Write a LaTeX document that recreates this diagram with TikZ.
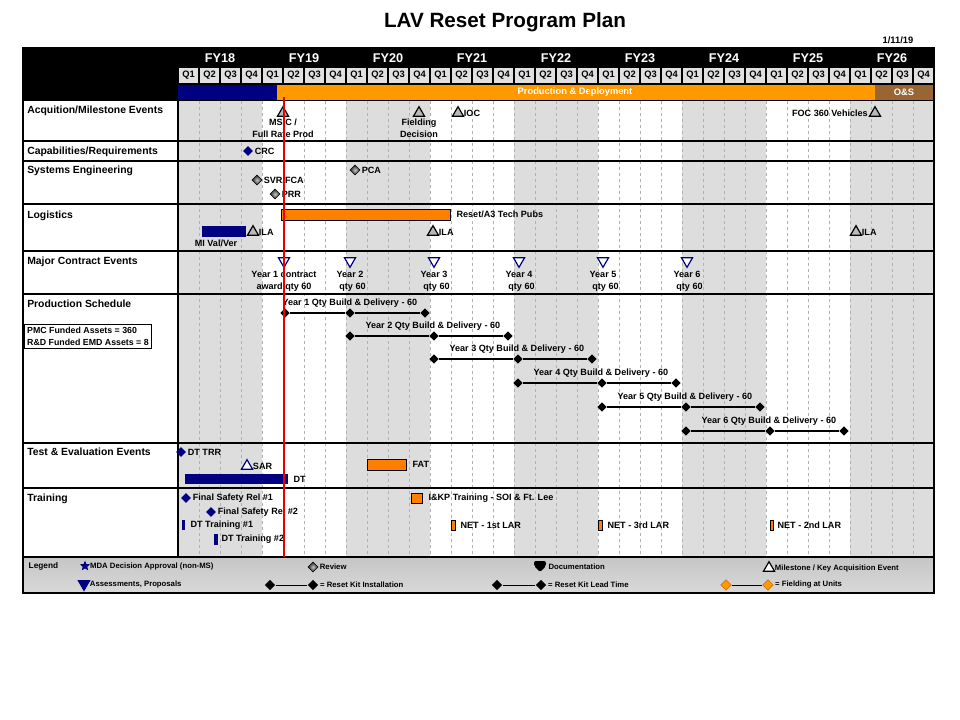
\documentclass[tikz,border=0pt]{standalone}
\usepackage{fontspec}
\setmainfont{Liberation Sans}
\usetikzlibrary{positioning, shapes.geometric}

\definecolor{navy}{RGB}{0,0,128}
\definecolor{phaseorange}{RGB}{255,153,0}
\definecolor{barorange}{RGB}{255,128,0}
\definecolor{osbrown}{RGB}{153,102,51}
\definecolor{yrshade}{RGB}{221,221,221}
\definecolor{qcell}{RGB}{224,224,224}
\definecolor{nowred}{RGB}{230,0,0}

\begin{document}
\begin{tikzpicture}[
  x=0.75pt, y=-0.75pt,
  lbl/.style={font=\bfseries\fontsize{6.8}{9}\selectfont, inner sep=1pt},
  rowlbl/.style={font=\bfseries\fontsize{7.8}{9}\selectfont, anchor=west, inner sep=0pt},
  leglbl/.style={font=\bfseries\fontsize{5.8}{6.5}\selectfont, inner sep=1pt},
  qlbl/.style={font=\bfseries\fontsize{7}{8}\selectfont, inner sep=0pt},
  mstone/.style={regular polygon, regular polygon sides=3, draw=black, fill=gray!55,
    line width=0.9pt, minimum size=9.5pt, inner sep=0pt},
  award/.style={regular polygon, regular polygon sides=3, shape border rotate=180,
    draw=navy, fill=white, line width=0.9pt, minimum size=9.5pt, inner sep=0pt},
  navydia/.style={diamond, fill=navy, minimum size=7.5pt, inner sep=0pt},
  review/.style={diamond, draw=black, inner color=gray!45, outer color=black!85,
    minimum size=7.5pt, inner sep=0pt},
  kit/.style={diamond, fill=black, minimum size=7pt, inner sep=0pt},
]
  \useasboundingbox (0,0) rectangle (960,720);

  % title
  \node[font=\bfseries\fontsize{15.5}{18}\selectfont] (title) at (505,22) {LAV Reset Program Plan};
  \node[font=\bfseries\fontsize{7}{8}\selectfont] (date) at (898,40) {1/11/19};

  % year shading and quarter grid
  \foreach \k in {0,2,4,6,8}
    \fill[yrshade] ({178+84*\k},101) rectangle ({262+84*\k},557);
  \foreach \i in {1,...,35}
    \draw[gray!60, line width=0.4pt, dash pattern=on 2.5pt off 2pt] ({178+21*\i},101) -- ({178+21*\i},557);

  % header
  \fill[black] (23,48) rectangle (934,101);
  \foreach \fy [count=\k from 0] in {18,...,26}
    \node[font=\bfseries\fontsize{9.5}{11}\selectfont, text=white] (fy\fy) at ({220+84*\k},58) {FY\fy};
  \foreach \i in {0,...,35}{
    \pgfmathtruncatemacro\q{mod(\i,4)+1}
    \fill[qcell] ({178+21*\i+1},68) rectangle ({178+21*\i+20},83);
    \node[qlbl] (q\i) at ({188.5+21*\i},75.5) {Q\q};
  }
  \fill[navy] (178,85) rectangle (277,100);
  \fill[phaseorange] (277,85) rectangle (875,100);
  \fill[osbrown] (875,85) rectangle (934,100);
  \node[qlbl, text=white] (prod) at (575,92.5) {Production \& Deployment};
  \node[qlbl, text=white] (os) at (904,92.5) {O\&S};

  % legend background
  \shade[top color=gray!45, middle color=white, bottom color=gray!30] (23,557) rectangle (934,593);

  % row separators
  \foreach \y in {141,161,204,251,294,443,488,557}
    \draw[line width=0.8pt] (23,\y) -- (934,\y);
  \draw[line width=0.8pt] (178,101) -- (178,557);

  % row titles
  \node[rowlbl] (racq) at (27,111) {Acquition/Milestone Events};
  \node[rowlbl] (rcap) at (27,152) {Capabilities/Requirements};
  \node[rowlbl] (rse) at (27,171) {Systems Engineering};
  \node[rowlbl] (rlog) at (27,216) {Logistics};
  \node[rowlbl] (rmce) at (27,262) {Major Contract Events};
  \node[rowlbl] (rps) at (27,304) {Production Schedule};
  \node[rowlbl] (rte) at (27,452) {Test \& Evaluation Events};
  \node[rowlbl] (rtr) at (27,499) {Training};

  % acquisition / milestones
  \node[mstone] (msc) at (283,113) {};
  \node[lbl, align=center] (msclbl) at (283,128) {MS C /\\Full Rate Prod};
  \node[mstone] (fdec) at (419,113) {};
  \node[lbl, align=center] (fdeclbl) at (419,128) {Fielding\\Decision};
  \node[mstone] (ioc) at (458,113) {};
  \node[lbl, right=0pt of ioc] (ioclbl) {IOC};
  \node[mstone] (foc) at (875,113) {};
  \node[lbl, left=1pt of foc] (foclbl) {FOC 360 Vehicles};

  % capabilities
  \node[navydia] (crc) at (248,151) {};
  \node[lbl, right=0pt of crc] (crclbl) {CRC};

  % systems engineering
  \node[review] (pca) at (355,170) {};
  \node[lbl, right=0pt of pca] (pcalbl) {PCA};
  \node[review] (svr) at (257,180) {};
  \node[lbl, right=0pt of svr] (svrlbl) {SVR/FCA};
  \node[review] (prr) at (275,194) {};
  \node[lbl, right=0pt of prr] (prrlbl) {PRR};

  % logistics
  \draw[fill=barorange, line width=0.5pt] (281,209) rectangle (450,220);
  \node[lbl, anchor=west] (pubslbl) at (455,214) {Reset/A3 Tech Pubs};
  \fill[navy] (202,226) rectangle (246,237);
  \node[lbl] (mivallbl) at (216,243) {MI Val/Ver};
  \node[mstone] (ila1) at (253,232) {};
  \node[lbl, right=0pt of ila1] (ila1lbl) {ILA};
  \node[mstone] (ila2) at (433,232) {};
  \node[lbl, right=0pt of ila2] (ila2lbl) {ILA};
  \node[mstone] (ila3) at (856,232) {};
  \node[lbl, right=0pt of ila3] (ila3lbl) {ILA};

  % major contract events
  \node[award] (yr1) at (284,261) {};
  \node[lbl, align=center] (yr1lbl) at (284,281) {Year 1 contract\\award qty 60};
  \foreach \n/\x in {2/350,3/434,4/519,5/603,6/687}{
    \node[award] (yr\n) at (\x,261) {};
    \node[lbl, align=center] (yr\n lbl) at (\x,281) {Year \n\\\ \ qty 60};
  }

  % production schedule
  \foreach \n/\s/\m/\e/\y/\t in {1/285/350/425/313/281, 2/350/434/508/336/364,
      3/434/518/592/359/448, 4/518/602/676/383/532, 5/602/686/760/407/616,
      6/686/770/844/431/700}{
    \node[kit] (p\n-a) at (\s,\y) {};
    \node[kit] (p\n-b) at (\m,\y) {};
    \node[kit] (p\n-c) at (\e,\y) {};
    \draw[line width=1pt] (p\n-a) -- (p\n-b) -- (p\n-c);
    \node[lbl, anchor=west] (p\n-lbl) at (\t,\y-10) {Year \n\ Qty Build \& Delivery - 60};
  }
  \node[draw, fill=white, line width=0.8pt, align=left, anchor=north west, inner sep=2pt,
    font=\bfseries\fontsize{6.6}{9}\selectfont] (funded) at (24,324)
    {PMC Funded Assets = 360\\R\&D Funded EMD Assets = 8};

  % test and evaluation
  \node[navydia] (dttrr) at (181,452) {};
  \node[lbl, right=0pt of dttrr] (dttrrlbl) {DT TRR};
  \node[mstone, draw=navy, fill=white] (sar) at (247,466) {};
  \node[lbl, right=0pt of sar] (sarlbl) {SAR};
  \fill[navy] (185,474) rectangle (288,484);
  \node[lbl, anchor=west] (dtlbl) at (292,479) {DT};
  \draw[fill=barorange, line width=0.5pt] (367,459) rectangle (406,470);
  \node[lbl, anchor=west] (fatlbl) at (411,464) {FAT};

  % training
  \node[navydia] (fsr1) at (186,498) {};
  \node[lbl, right=0pt of fsr1] (fsr1lbl) {Final Safety Rel \#1};
  \node[navydia] (fsr2) at (211,512) {};
  \node[lbl, right=0pt of fsr2] (fsr2lbl) {Final Safety Rel \#2};
  \fill[navy] (182,520) rectangle (185,530);
  \node[lbl, anchor=west] (dttr1) at (189,525) {DT Training \#1};
  \fill[navy] (214,534) rectangle (218,545);
  \node[lbl, anchor=west] (dttr2) at (220,539) {DT Training \#2};
  \draw[fill=barorange, line width=0.5pt] (411,493) rectangle (422,503);
  \node[lbl, anchor=west] (ikp) at (427,498) {I\&KP Training - SOI \& Ft. Lee};
  \draw[fill=barorange, line width=0.4pt] (451,520) rectangle (455,530);
  \node[lbl, anchor=west] (net1) at (459,525) {NET - 1st LAR};
  \draw[fill=barorange, line width=0.4pt] (598,520) rectangle (602,530);
  \node[lbl, anchor=west] (net3) at (606,525) {NET - 3rd LAR};
  \draw[fill=barorange, line width=0.4pt] (770,520) rectangle (773,530);
  \node[lbl, anchor=west] (net2) at (776,525) {NET - 2nd LAR};

  % legend
  \node[font=\bfseries\fontsize{6.2}{7}\selectfont, anchor=west] (legend) at (24,566) {Legend};
  \node[star, star points=5, star point ratio=2.2, fill=navy, minimum size=8pt, inner sep=0pt] (lgstar) at (85,566) {};
  \node[leglbl, right=0pt of lgstar] (lgstarlbl) {MDA Decision Approval (non-MS)};
  \node[review] (lgrev) at (313,567) {};
  \node[leglbl, right=0pt of lgrev] (lgrevlbl) {Review};
  \fill[rounded corners=1.5pt] (534,561) -- (546,561) -- (546,566) -- (540,572) -- (534,566) -- cycle;
  \node[leglbl, anchor=west] (lgdoc) at (547,567) {Documentation};
  \node[mstone, fill=white] (lgms) at (769,568) {};
  \node[leglbl, right=0pt of lgms] (lgmslbl) {Milestone / Key Acquisition Event};
  \node[award, draw=navy, fill=navy] (lgas) at (84,584) {};
  \node[leglbl, right=0pt of lgas] (lgaslbl) {Assessments, Proposals};
  \node[kit, minimum size=8pt] (lgk1) at (270,585) {};
  \node[kit, minimum size=8pt] (lgk2) at (313,585) {};
  \draw[line width=0.6pt] (lgk1) -- (lgk2);
  \node[leglbl, right=0pt of lgk2] (lgklbl) {= Reset Kit Installation};
  \node[kit, minimum size=8pt] (lgl1) at (497,585) {};
  \node[kit, minimum size=8pt] (lgl2) at (541,585) {};
  \draw[line width=0.6pt] (lgl1) -- (lgl2);
  \node[leglbl, right=0pt of lgl2] (lgllbl) {= Reset Kit Lead Time};
  \node[kit, minimum size=8pt, fill=phaseorange, draw=barorange!80!black, line width=0.4pt] (lgf1) at (726,585) {};
  \node[kit, minimum size=8pt, fill=phaseorange, draw=barorange!80!black, line width=0.4pt] (lgf2) at (768,585) {};
  \draw[line width=0.6pt] (lgf1) -- (lgf2);
  \node[leglbl, right=0pt of lgf2] (lgflbl) {= Fielding at Units};

  % status date line
  \draw[nowred, line width=1.6pt] (284,97) -- (284,557);

  % frame
  \draw[line width=0.8pt] (23,48) rectangle (934,593);
\end{tikzpicture}
\end{document}
